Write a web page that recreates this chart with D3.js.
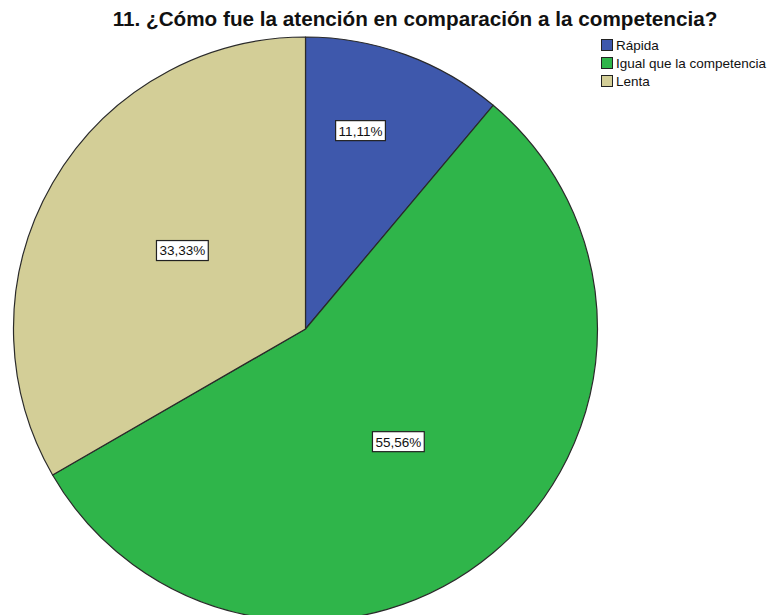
<!DOCTYPE html>
<html>
<head>
<meta charset="utf-8">
<script src="https://cdn.jsdelivr.net/npm/d3@7/dist/d3.min.js"></script>
<style>
  html, body { margin: 0; padding: 0; background: #fff; }
  svg { display: block; }
  text { font-family: "Liberation Sans", Arial, sans-serif; }
</style>
</head>
<body>
<svg id="chart" width="769" height="615"></svg>
<script>
// Survey question 11 – answer shares (percent)
const categories = ["Rápida", "Igual que la competencia", "Lenta"];
const percents = [11.11, 55.56, 33.33];
const valueLabels = ["11,11%", "55,56%", "33,33%"];
const titleText = "11. ¿Cómo fue la atención en comparación a la competencia?";

// Appearance
const colors = ["#3e58ac", "#2fb54a", "#d3ce97"];
const W = 769, H = 615;
const cx = 305.5, cy = 329, R = 292;
// where each value label sits: fraction of radius, angular nudge in degrees
const labelPlacement = [[0.705, -4.5], [0.5, 0.5], [0.5, 2.5]];

const svg = d3.select("#chart");

svg.append("text")
  .attr("x", 415)
  .attr("y", 26)
  .attr("text-anchor", "middle")
  .attr("font-size", "20.7px")
  .attr("font-weight", "bold")
  .attr("fill", "#111")
  .text(titleText);

const pie = d3.pie().sort(null).value(d => d)
  .startAngle(0).endAngle(2 * Math.PI);
const arcs = pie(percents);
const arc = d3.arc().innerRadius(0).outerRadius(R);

const g = svg.append("g").attr("transform", `translate(${cx},${cy})`);

g.selectAll("path.slice")
  .data(arcs)
  .join("path")
  .attr("class", "slice")
  .attr("d", arc)
  .attr("fill", (d, i) => colors[i])
  .attr("stroke", "#2a2a2a")
  .attr("stroke-width", 1.2)
  .attr("stroke-linejoin", "round");

// value labels in white boxes
const lab = g.selectAll("g.lab")
  .data(arcs)
  .join("g")
  .attr("class", "lab")
  .attr("transform", (d, i) => {
    const [f, nudge] = labelPlacement[i];
    const a = (d.startAngle + d.endAngle) / 2 + nudge * Math.PI / 180;
    const r = R * f;
    return `translate(${r * Math.sin(a)},${-r * Math.cos(a)})`;
  });

lab.append("text")
  .attr("text-anchor", "middle")
  .attr("dy", "0.36em")
  .attr("font-size", "13.5px")
  .attr("fill", "#111")
  .text((d, i) => valueLabels[i]);

lab.each(function () {
  const node = d3.select(this);
  const bb = node.select("text").node().getBBox();
  node.insert("rect", "text")
    .attr("x", bb.x - 3)
    .attr("y", -10)
    .attr("width", bb.width + 6)
    .attr("height", 20)
    .attr("fill", "#fff")
    .attr("stroke", "#222")
    .attr("stroke-width", 1.2);
});

// legend
const legend = svg.append("g").attr("transform", "translate(601,45)");
const rows = legend.selectAll("g.row")
  .data(categories)
  .join("g")
  .attr("class", "row")
  .attr("transform", (d, i) => `translate(0,${i * 18})`);

rows.append("rect")
  .attr("x", 0.5)
  .attr("y", -5.5)
  .attr("width", 11)
  .attr("height", 11)
  .attr("fill", (d, i) => colors[i])
  .attr("stroke", "#222")
  .attr("stroke-width", 1);

rows.append("text")
  .attr("x", 15)
  .attr("dy", "0.36em")
  .attr("font-size", "13.5px")
  .attr("fill", "#111")
  .text(d => d);
</script>
</body>
</html>
